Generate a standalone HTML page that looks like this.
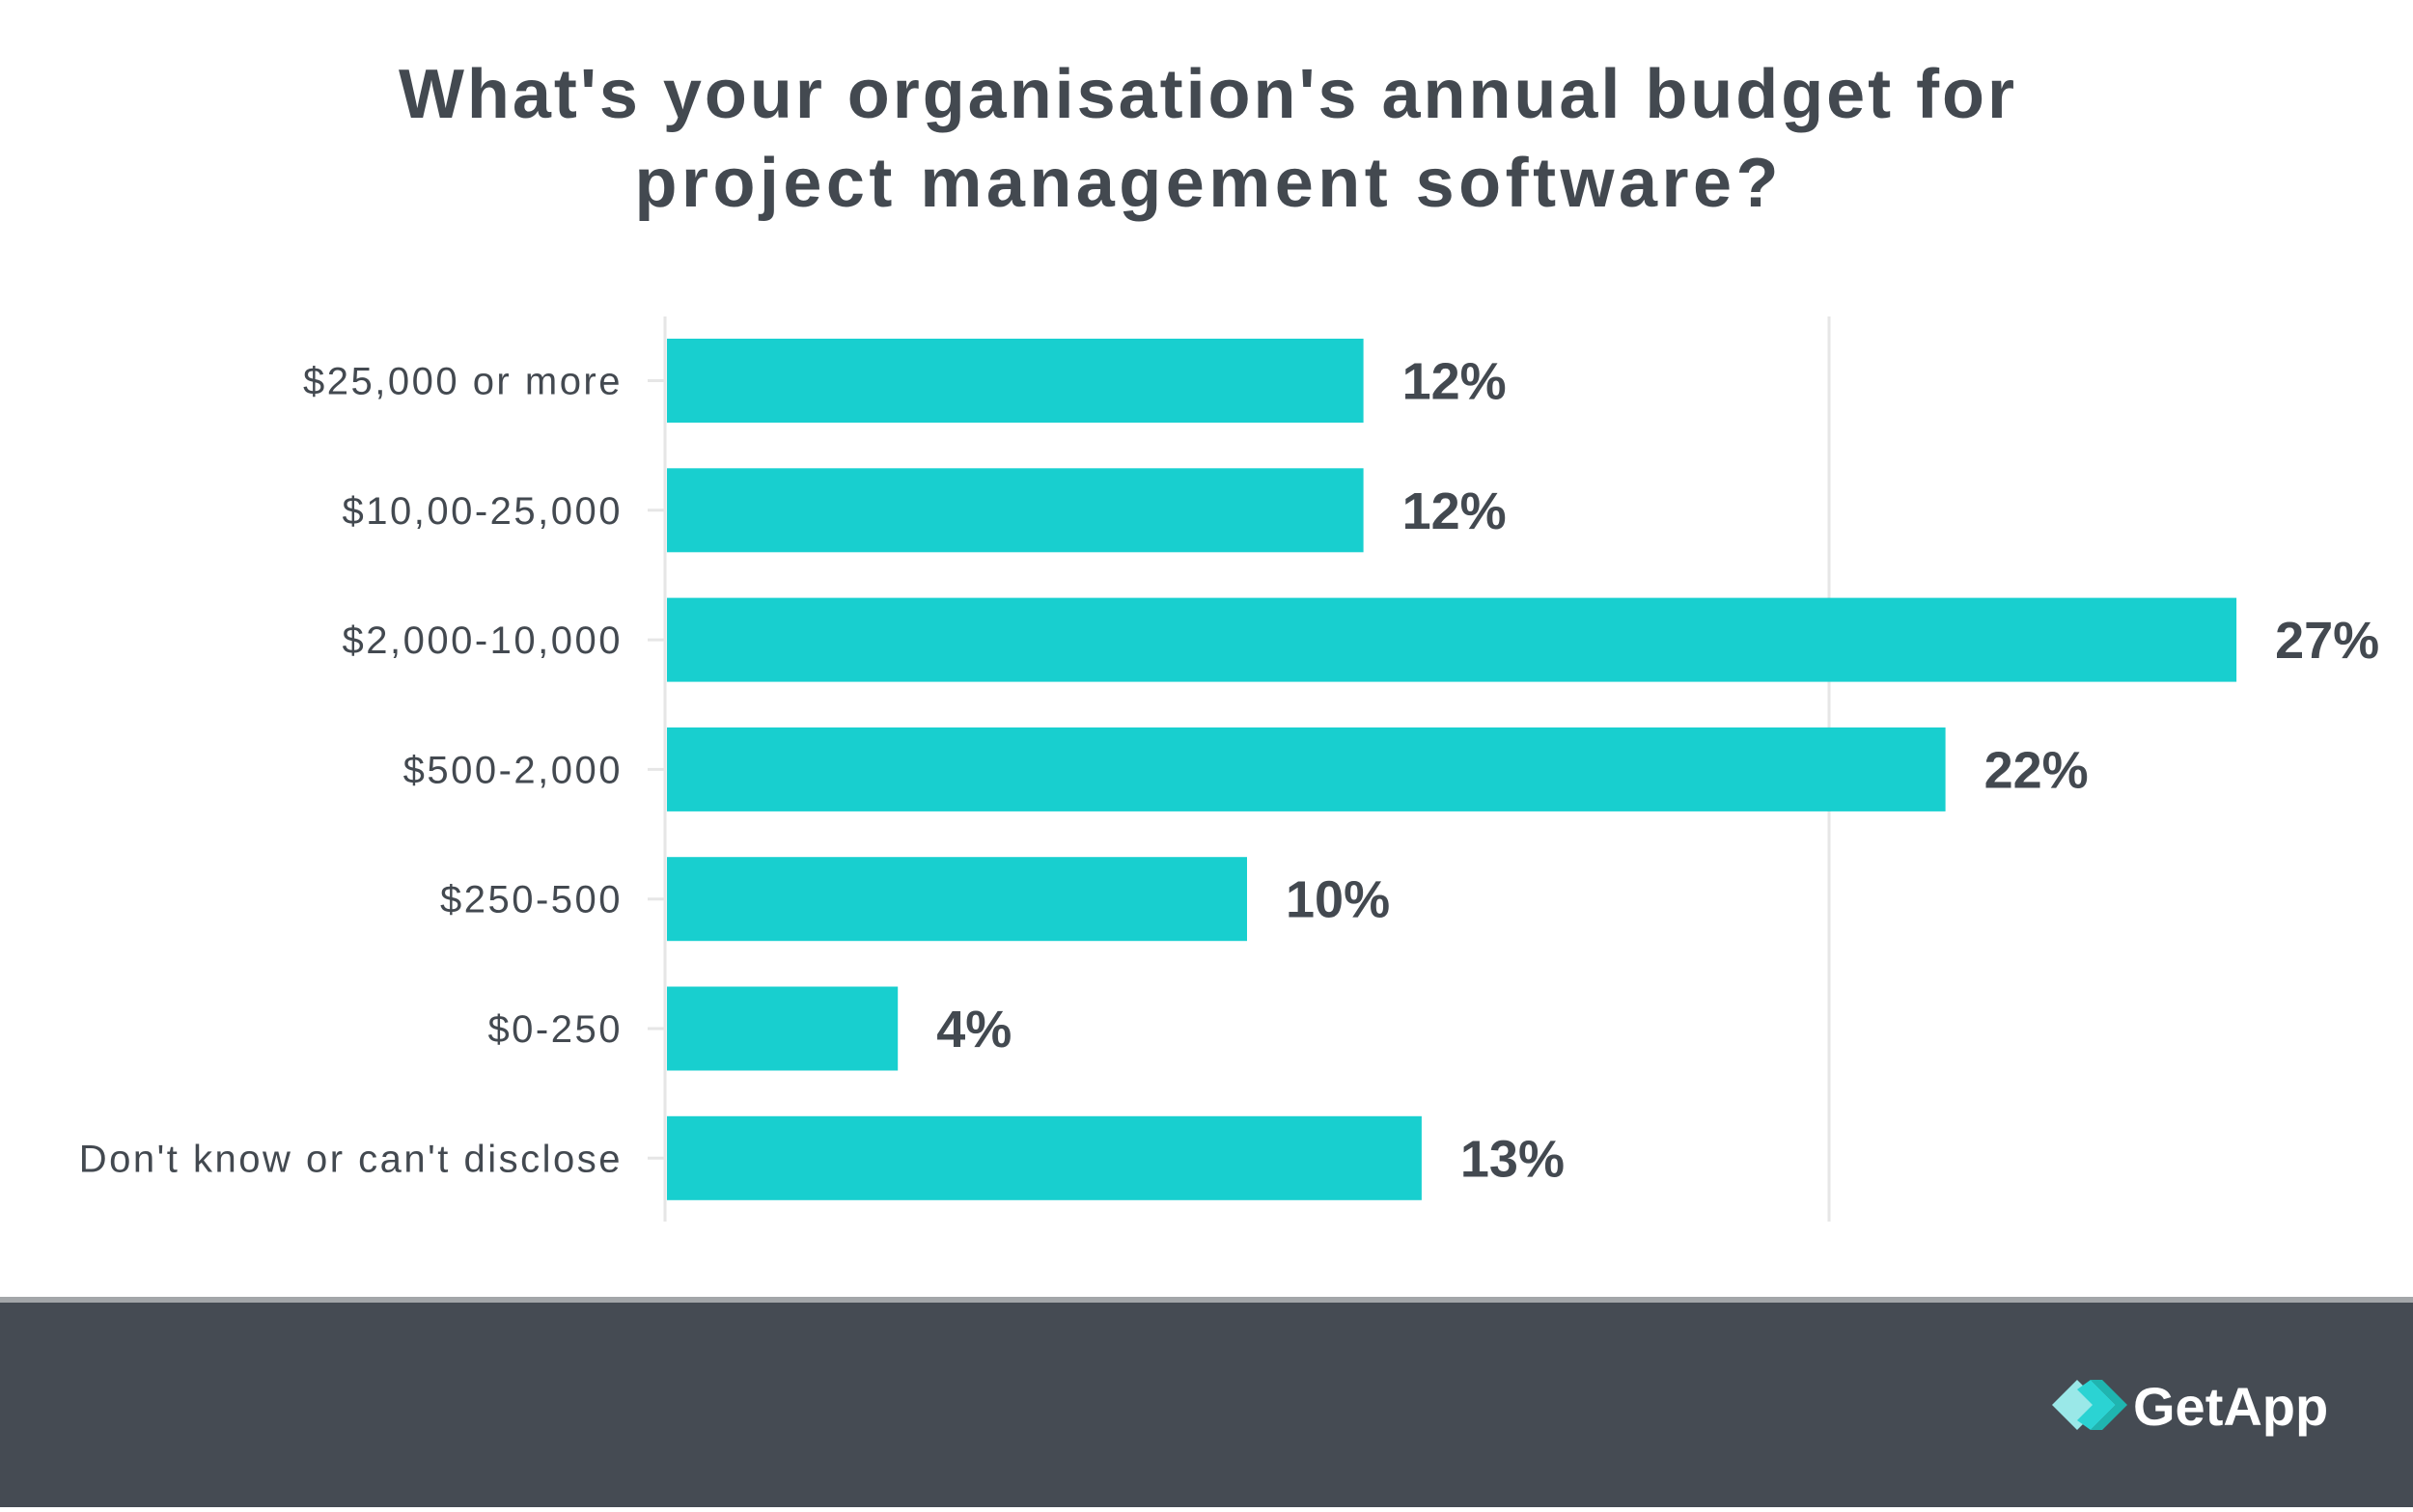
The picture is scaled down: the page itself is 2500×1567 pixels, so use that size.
<!DOCTYPE html>
<html><head><meta charset="utf-8"><style>
body{margin:0;width:2500px;height:1562px;background:#fff;overflow:hidden;font-family:"Liberation Sans",sans-serif}
</style></head><body>
<svg width="2500" height="1562">
<text x="1250" y="122" text-anchor="middle" font-size="72" font-weight="bold" fill="#434950" textLength="1674" lengthAdjust="spacing">What's your organisation's annual budget for</text>
<text x="1250" y="214" text-anchor="middle" font-size="72" font-weight="bold" fill="#434950" textLength="1185" lengthAdjust="spacing">project management software?</text>
<g id="plot"></g>
<rect x="0" y="1344" width="2500" height="6" fill="#a3a6a9"/>
<rect x="0" y="1350" width="2500" height="212" fill="#454b53"/>
<g>
<polygon points="2126,1456 2152,1430 2178,1456 2152,1482" fill="#9ae8e8"/>
<polygon points="2152,1440 2166,1430 2192,1456 2166,1482 2152,1472 2168,1456" fill="#2bd3d3"/>
<polygon points="2166,1430 2178,1430 2204,1456 2178,1482 2166,1482 2192,1456" fill="#1fb5b0"/>
<text x="2210" y="1477" font-size="56" font-weight="bold" fill="#fff">GetApp</text>
</g>
</svg>
<script>
const categories=["$25,000 or more","$10,00-25,000","$2,000-10,000","$500-2,000","$250-500","$0-250","Don't know or can't disclose"];
const values=[12,12,27,22,10,4,13];
const valueLabels=["12%","12%","27%","22%","10%","4%","13%"];
const gridTicks=[0,20];
const NS="http://www.w3.org/2000/svg";
const g=document.getElementById('plot');
const x0=689,pxPer=60.3,top0=351,step=134.3,bh=87;
const xs=v=>x0+v*pxPer;
function mk(t,a){const e=document.createElementNS(NS,t);for(const k in a)e.setAttribute(k,a[k]);g.appendChild(e);return e;}
gridTicks.forEach(t=>{
 const l=mk('line',{x1:xs(t),x2:xs(t),y1:328,y2:1266,stroke:'#e6e6e6','stroke-width':3});
 
 
});
categories.forEach((c,i)=>{
 const y=top0+i*step, cy=y+bh/2;
 const tk=mk('line',{x1:x0-18,x2:x0,y1:cy,y2:cy,stroke:'#e6e6e6','stroke-width':3});
 
 
 const lb=mk('text',{x:645,y:cy+14,'text-anchor':'end','font-size':40,'letter-spacing':2.5,fill:'#434950'});
 lb.textContent=c;
 
 
 const r=mk('rect',{x:x0+2,y:y,width:xs(values[i])-x0-2,height:bh,fill:'#18cfcf'});
 
 
 const vl=mk('text',{x:xs(values[i])+40,y:cy+19,'font-size':54,'font-weight':'bold',fill:'#434950'});
 vl.textContent=valueLabels[i];
 
 
});
</script>
</body></html>
